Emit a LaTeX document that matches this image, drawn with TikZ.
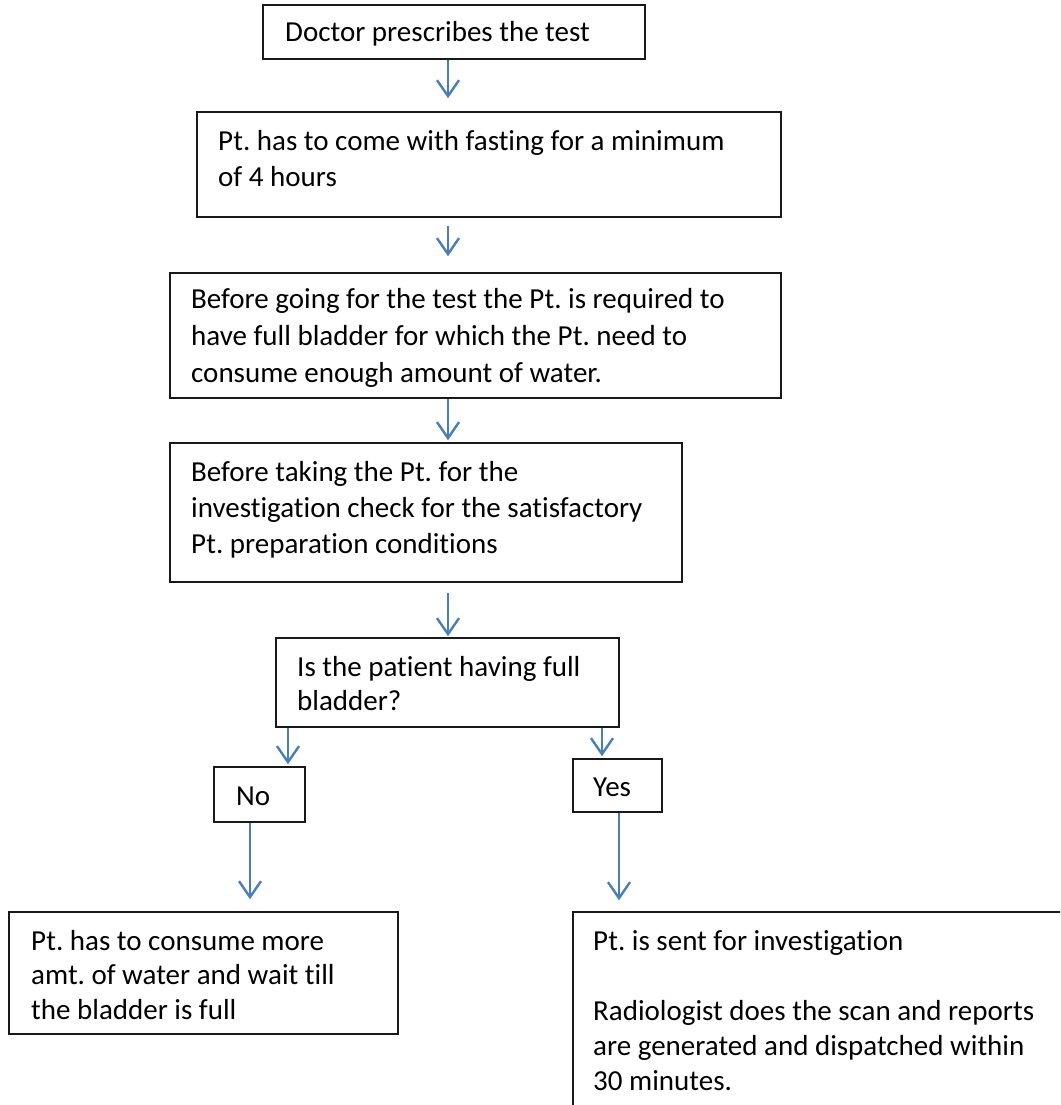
\documentclass[tikz,border=0pt]{standalone}
\usepackage{fontspec}
\setmainfont{Carlito}[Ligatures=NoCommon]
\usetikzlibrary{arrows.meta,fit}
\definecolor{flowblue}{HTML}{4A7EBB}
\newcommand\linestack[2]{\parbox[t]{620pt}{\fontsize{29}{#1}\selectfont #2}}
\tikzset{
  stepbox/.style={draw=black!90, line width=1.5pt, fill=white, rectangle, inner sep=0pt},
  txt/.style={inner sep=0pt, anchor=base west, font=\fontsize{29}{35}\selectfont},
  flow/.style={draw=flowblue, line width=2.5pt,
    -{Straight Barb[length=16pt,width=22pt,line width=2.4pt]}},
}
\newcommand\boxat[3]{% name, north west corner, south east corner
  \path (#2) coordinate (#1nw) (#3) coordinate (#1se);
  \node[stepbox, fit=(#1nw)(#1se)] (#1) {};}
\begin{document}
\frenchspacing
\begin{tikzpicture}[x=1pt, y=-1pt]
\useasboundingbox (0,0) rectangle (1060,1105);
\clip (0,0) rectangle (1060,1105);
\fill[white] (0,0) rectangle (1060,1105);

% boxes
\boxat{b1}{263,5}{645,59}
\boxat{b2}{197,112}{781,217}
\boxat{b3}{170,273}{781,398}
\boxat{b4}{170,443}{682,582}
\boxat{b5}{276,638}{619,727}
\boxat{bno}{214,767}{305,822}
\boxat{byes}{573,759}{662,812}
\boxat{b8}{9,912}{398,1034}
\boxat{b9}{573,912}{1090,1130}

% texts
\node[txt] (t1) at (285,42) {Doctor prescribes the test};
\node[txt] (t2) at (218,150) {\linestack{36.5}{Pt. has to come with fasting for a minimum\\of 4 hours}};
\node[txt] (t3) at (191,308) {\linestack{37}{Before going for the test the Pt. is required to\\have full bladder for which the Pt. need to\\consume enough amount of water.}};
\node[txt] (t4) at (191,481) {\linestack{36}{Before taking the Pt. for the\\investigation check for the satisfactory\\Pt. preparation conditions}};
\node[txt] (t5) at (297,676) {\linestack{34.5}{Is the patient having full\\bladder?}};
\node[txt] (tno) at (236,805) {No};
\node[txt] (tyes) at (593,796) {Yes};
\node[txt] (t8) at (31,950) {\linestack{34.5}{Pt. has to consume more\\amt. of water and wait till\\the bladder is full}};
\node[txt] (t9) at (593,950) {\linestack{35}{Pt. is sent for investigation\\\mbox{}\\Radiologist does the scan and reports\\are generated and dispatched within\\30 minutes.}};

% connector columns
\coordinate (cmain) at (448,0);
\coordinate (cno) at (288,0);
\coordinate (cyes) at (602,0);
\coordinate (cnodown) at (250,0);
\coordinate (cyesdown) at (619,0);

% connectors
\draw[flow, shorten >=13pt] (b1.south -| cmain) -- (b2.north -| cmain);
\draw[flow, shorten <=8pt, shorten >=16pt] (b2.south -| cmain) -- (b3.north -| cmain);
\draw[flow, shorten >=2pt] (b3.south -| cmain) -- (b4.north -| cmain);
\draw[flow, shorten <=10pt, shorten >=1pt] (b4.south -| cmain) -- (b5.north -| cmain);
\draw[flow, shorten >=2pt] (b5.south -| cno) -- (bno.north -| cno);
\draw[flow, shorten >=2pt] (b5.south -| cyes) -- (byes.north -| cyes);
\draw[flow, shorten >=12pt] (bno.south -| cnodown) -- (b8.north -| cnodown);
\draw[flow, shorten >=11pt] (byes.south -| cyesdown) -- (b9.north -| cyesdown);
\end{tikzpicture}
\end{document}
